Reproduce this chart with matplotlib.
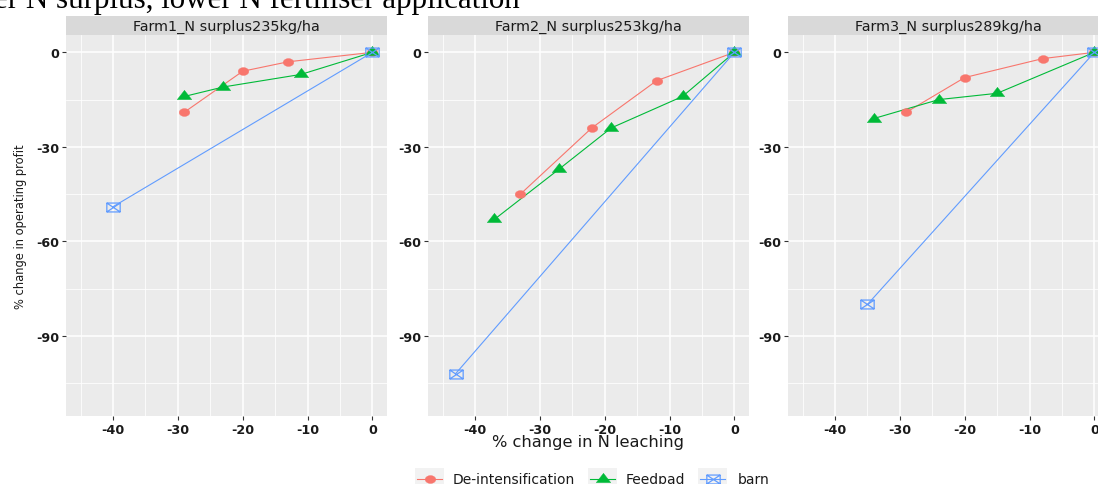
import numpy as np
import matplotlib
matplotlib.use("Agg")
import matplotlib.pyplot as plt
from matplotlib.path import Path
from matplotlib.patches import Rectangle

# ---------------- data ----------------
farms = ["Farm1_N surplus235kg/ha", "Farm2_N surplus253kg/ha", "Farm3_N surplus289kg/ha"]
series_names = ["De-intensification", "Feedpad", "barn"]

deint_x = [[-29, -20, -13, 0], [-33, -22, -12, 0], [-29, -20, -8, 0]]
deint_y = [[-19, -6, -3, 0], [-45, -24, -9, 0], [-19, -8, -2, 0]]
feed_x = [[-29, -23, -11, 0], [-37, -27, -19, -8, 0], [-34, -24, -15, 0]]
feed_y = [[-14, -11, -7, 0], [-53, -37, -24, -14, 0], [-21, -15, -13, 0]]
barn_x = [[-40, 0], [-43, 0], [-35, 0]]
barn_y = [[-49, 0], [-102, 0], [-80, 0]]

x_ticks = [-40, -30, -20, -10, 0]
y_ticks = [0, -30, -60, -90]

title_text = "er N surplus, lower N fertiliser application"
xlabel = "% change in N leaching"
ylabel = "% change in operating profit"

# ---------------- style ----------------
W, H = 1098, 485
colors = ["#F8766D", "#00BA38", "#619CFF"]
SX = 1.35  # horizontal stretch of the reference image

t = np.linspace(0, 2 * np.pi, 41)
ell_marker = Path(np.column_stack([np.cos(t) * SX, np.sin(t)]), closed=True)
tri_marker = Path([(0, 1), (-0.866 * SX, -0.5), (0.866 * SX, -0.5), (0, 1)], closed=True)
a = 1.5
box_marker = Path(
    [(-a, -1), (a, -1), (a, 1), (-a, 1), (-a, -1),
     (-a, -1), (a, 1), (-a, 1), (a, -1)],
    [Path.MOVETO, Path.LINETO, Path.LINETO, Path.LINETO, Path.CLOSEPOLY,
     Path.MOVETO, Path.LINETO, Path.MOVETO, Path.LINETO])

mstyles = [
    dict(marker=ell_marker, markersize=7.6, markerfacecolor=colors[0], markeredgecolor=colors[0], markeredgewidth=0.3),
    dict(marker=tri_marker, markersize=10.4, markerfacecolor=colors[1], markeredgecolor=colors[1], markeredgewidth=0.3),
    dict(marker=box_marker, markersize=9.6, markerfacecolor="none", markeredgecolor=colors[2], markeredgewidth=0.9),
]

fig = plt.figure(figsize=(W / 100, H / 100), dpi=100)
fig.patch.set_facecolor("white")

panel_left = [66, 428, 788]
panel_w = 321
panel_top, panel_bot = 36, 417.3
strip_top = 17

def fx(px):
    return px / W

def fy(py):
    return 1 - py / H

tick_font = dict(family="DejaVu Sans", weight="bold", size=9.2, color="#1A1A1A")

for i, farm in enumerate(farms):
    ax = fig.add_axes([fx(panel_left[i]), fy(panel_bot), panel_w / W, (panel_bot - panel_top) / H])
    ax.set_facecolor("#EBEBEB")
    for s in ax.spines.values():
        s.set_visible(False)
    ax.set_xlim(-47.25, 2.25)
    ax.set_ylim(-115.5, 5.5)
    ax.set_xticks(x_ticks)
    ax.set_yticks(y_ticks)
    ax.set_xticks([-45, -35, -25, -15, -5], minor=True)
    ax.set_yticks([-15, -45, -75, -105], minor=True)
    ax.grid(True, which="major", color="white", lw=1.1)
    ax.grid(True, which="minor", color="white", lw=0.55)
    ax.set_axisbelow(True)
    ax.tick_params(which="minor", length=0)
    ax.tick_params(which="major", length=3.2, width=0.8, color="#333333", pad=1.5)
    ax.set_xticklabels([str(v) for v in x_ticks], fontdict=tick_font)
    ax.set_yticklabels([str(v) for v in y_ticks], fontdict=tick_font)

    data = [(deint_x[i], deint_y[i]), (feed_x[i], feed_y[i]), (barn_x[i], barn_y[i])]
    for k, (xs, ys) in enumerate(data):
        order = np.argsort(xs)
        xs_s = np.asarray(xs)[order]
        ys_s = np.asarray(ys)[order]
        ax.plot(xs_s, ys_s, color=colors[k], lw=0.8, zorder=2)
    for k, (xs, ys) in enumerate(data):
        ax.plot(xs, ys, linestyle="none", zorder=3 + k, **mstyles[k])

    # strip
    sh = (panel_top - strip_top) / (panel_bot - panel_top)
    ax.add_patch(Rectangle((0, 1), 1, sh, transform=ax.transAxes, facecolor="#D9D9D9",
                           edgecolor="none", clip_on=False))
    ax.text(0.5, 1 + sh / 2, farm, transform=ax.transAxes, ha="center", va="center",
            fontsize=10.4, color="#1A1A1A", family="DejaVu Sans")

# axis labels
fig.text(fx(21), fy((panel_top + panel_bot) / 2), ylabel, rotation=90, ha="center", va="center",
         fontsize=8.3, color="#1A1A1A", family="DejaVu Sans")
fig.text(fx(588), fy(443), xlabel, ha="center", va="center", fontsize=11.7, color="#1A1A1A",
         family="DejaVu Sans")

# cropped title (the reference shows only its lower part)
fig.text(fx(-6), fy(8), title_text, ha="left", va="baseline", fontsize=22.3,
         family="Liberation Serif", color="black")

# legend (manual, in pixel coordinates)
lax = fig.add_axes([0, 0, 1, 1], zorder=10)
lax.set_xlim(0, W)
lax.set_ylim(H, 0)
lax.axis("off")
key_x = [415, 588, 698]
text_x = [453, 626, 738]
ly = 479.5
for k, name in enumerate(series_names):
    lax.add_patch(Rectangle((key_x[k], 469), 29, 22, facecolor="#F2F2F2", edgecolor="none"))
    lax.plot([key_x[k] + 2, key_x[k] + 27], [ly, ly], color=colors[k], lw=0.8)
    lax.plot([key_x[k] + 14.5], [ly], linestyle="none", **mstyles[k])
    lax.text(text_x[k], ly + 0.5, name, ha="left", va="center", fontsize=10, color="#1A1A1A",
             family="DejaVu Sans")

fig.savefig("out.png", dpi=100)
